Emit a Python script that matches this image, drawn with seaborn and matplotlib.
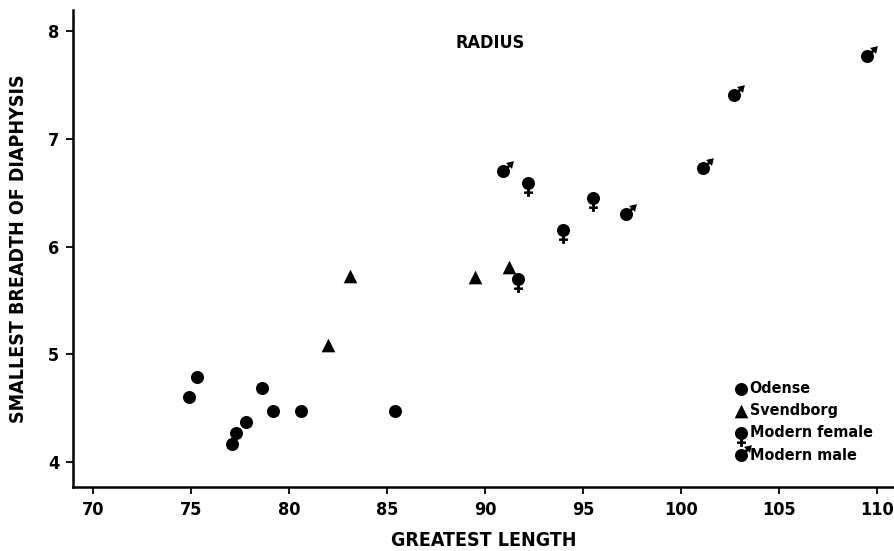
import numpy as np
import matplotlib
matplotlib.use("Agg")
import matplotlib.pyplot as plt
from matplotlib.path import Path
import seaborn as sns

# ---- data ----
odense_x = [74.9, 75.3, 77.1, 77.3, 77.8, 78.6, 79.2, 80.6, 85.4]
odense_y = [4.60, 4.79, 4.17, 4.27, 4.37, 4.69, 4.47, 4.47, 4.47]
svend_x = [82.0, 83.1, 89.5, 91.2]
svend_y = [5.09, 5.73, 5.72, 5.81]
female_x = [91.7, 92.2, 94.0, 95.5]
female_y = [5.70, 6.59, 6.15, 6.45]
male_x = [90.9, 97.2, 101.1, 102.7, 109.5]
male_y = [6.70, 6.30, 6.73, 7.41, 7.77]
group_names = ["Odense", "Svendborg", "Modern female", "Modern male"]
x_ticks = [70, 75, 80, 85, 90, 95, 100, 105, 110]
y_ticks = [4, 5, 6, 7, 8]

sns.set_theme(style="ticks")
plt.rcParams["font.family"] = ["DejaVu Sans"]
plt.rcParams["font.stretch"] = "condensed"
plt.rcParams["font.weight"] = "bold"
for k in ["text.color", "axes.labelcolor", "xtick.color", "ytick.color", "axes.edgecolor"]:
    plt.rcParams[k] = "black"


def rect(x0, y0, x1, y1):
    return Path([(x0, y0), (x1, y0), (x1, y1), (x0, y1), (x0, y0)],
                [Path.MOVETO, Path.LINETO, Path.LINETO, Path.LINETO, Path.CLOSEPOLY])


def poly(pts):
    pts = list(pts) + [pts[0]]
    codes = [Path.MOVETO] + [Path.LINETO] * (len(pts) - 2) + [Path.CLOSEPOLY]
    return Path(pts, codes)


circle = Path.circle((0, 0), 1.0)
# female sign: filled circle with a cross below
female_marker = Path.make_compound_path(
    circle,
    rect(-0.22, -2.05, 0.22, -0.9),
    rect(-0.68, -1.6, 0.68, -1.22),
)
# male sign: filled circle with an arrow to the upper right
c, s_ = np.cos(np.pi / 4), np.sin(np.pi / 4)


def rot(p):
    x, y = p
    return (x * c - y * s_, x * s_ + y * c)


shaft = poly([rot(p) for p in [(0.8, -0.22), (1.4, -0.22), (1.4, 0.22), (0.8, 0.22)]])
head = poly([rot(p) for p in [(1.2, -0.65), (2.25, 0.0), (1.2, 0.65)]])
male_marker = Path.make_compound_path(circle, shaft, head)

fig = plt.figure(figsize=(8.95, 5.51), dpi=100)
ax = fig.add_axes([0.0816, 0.116, 0.9184, 0.866])

base = 88
sns.scatterplot(x=odense_x, y=odense_y, marker="o", s=base, color="black",
                linewidth=0, ax=ax, label=group_names[0])
sns.scatterplot(x=svend_x, y=svend_y, marker="^", s=base * 1.1, color="black",
                linewidth=0, ax=ax, label=group_names[1])
sns.scatterplot(x=female_x, y=female_y, marker=female_marker, s=base * 2.05 ** 2,
                color="black", linewidth=0, ax=ax, label=group_names[2])
sns.scatterplot(x=male_x, y=male_y, marker=male_marker, s=base * 1.59 ** 2,
                color="black", linewidth=0, ax=ax, label=group_names[3])

ax.set_xlim(68.98, 110.92)
ax.set_ylim(3.768, 8.195)
ax.set_xticks(x_ticks)
ax.set_yticks(y_ticks)
ax.set_xticklabels([str(t) for t in x_ticks])
ax.set_yticklabels([str(t) for t in y_ticks])
ax.tick_params(axis="both", labelsize=13, width=1.3, length=5, direction="out",
               colors="black", pad=5)
for lab in ax.get_xticklabels() + ax.get_yticklabels():
    lab.set_fontweight("bold")

for sp in ["top", "right"]:
    ax.spines[sp].set_visible(False)
for sp in ["left", "bottom"]:
    ax.spines[sp].set_linewidth(1.8)
    ax.spines[sp].set_color("black")

ax.set_xlabel("GREATEST LENGTH", fontsize=14, fontweight="bold", labelpad=9)
ax.set_ylabel("SMALLEST BREADTH OF DIAPHYSIS", fontsize=14, fontweight="bold",
              labelpad=14)

ax.text(0.507, 0.931, "RADIUS", transform=ax.transAxes, ha="center", va="center",
        fontsize=13, fontweight="bold")

leg = ax.legend(loc="lower left", bbox_to_anchor=(0.795, 0.038), frameon=False,
                handletextpad=0.05, handlelength=1.0, labelspacing=0.45,
                borderaxespad=0.0, prop={"family": ["DejaVu Sans"], "stretch": "condensed",
                                         "weight": "bold", "size": 11.5})

fig.savefig("out.png", dpi=100)
